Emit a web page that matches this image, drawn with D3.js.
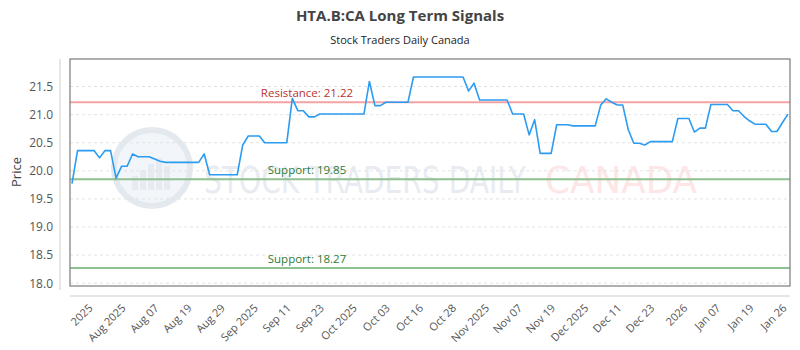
<!DOCTYPE html>
<html>
<head>
<meta charset="utf-8">
<script src="https://cdn.jsdelivr.net/npm/d3@7"></script>
<style>
  body { margin: 0; background: #fff; }
  svg { font-family: "Open Sans", "Noto Sans", sans-serif; }
</style>
</head>
<body>
<div id="chart"></div>
<script>
// chart values
var tickLabels = ["2025", "Aug 2025", "Aug 07", "Aug 19", "Aug 29", "Sep 2025", "Sep 11", "Sep 23",
    "Oct 2025", "Oct 03", "Oct 16", "Oct 28", "Nov 2025", "Nov 07", "Nov 19", "Dec 2025",
    "Dec 11", "Dec 23", "2026", "Jan 07", "Jan 19", "Jan 26"];

var prices = [
    19.77, 20.36, 20.36, 20.36, 20.36, 20.23, 20.36, 20.36, 19.87, 20.08,
    20.08, 20.30, 20.25, 20.25, 20.25, 20.21, 20.17, 20.15, 20.15, 20.15,
    20.15, 20.15, 20.15, 20.15, 20.30, 19.93, 19.93, 19.93, 19.93, 19.93,
    19.93, 20.46, 20.62, 20.62, 20.62, 20.50, 20.50, 20.50, 20.50, 20.50,
    21.29, 21.07, 21.07, 20.96, 20.96, 21.01, 21.01, 21.01, 21.01, 21.01,
    21.01, 21.01, 21.01, 21.01, 21.59, 21.16, 21.16, 21.22, 21.22, 21.22,
    21.22, 21.22, 21.67, 21.67, 21.67, 21.67, 21.67, 21.67, 21.67, 21.67,
    21.67, 21.67, 21.42, 21.56, 21.26, 21.26, 21.26, 21.26, 21.26, 21.26,
    21.01, 21.01, 21.01, 20.64, 20.91, 20.31, 20.31, 20.31, 20.82, 20.82,
    20.82, 20.80, 20.80, 20.80, 20.80, 20.80, 21.17, 21.28, 21.22, 21.17,
    21.17, 20.73, 20.49, 20.49, 20.46, 20.52, 20.52, 20.52, 20.52, 20.52,
    20.93, 20.93, 20.93, 20.69, 20.76, 20.76, 21.18, 21.18, 21.18, 21.18,
    21.07, 21.07, 20.97, 20.89, 20.83, 20.83, 20.83, 20.70, 20.70, 20.86,
    21.01
];

var yTicks = [18.0, 18.5, 19.0, 19.5, 20.0, 20.5, 21.0, 21.5];

var levelNames = ["Resistance", "Support", "Support"];
var levelValues = [21.22, 19.85, 18.27];

var svgWidth = 800;
var svgHeight = 350;

var plot = { left: 70, top: 59, right: 790, bottom: 286 };

var svg = d3.select("#chart")
    .append("svg")
    .attr("width", svgWidth)
    .attr("height", svgHeight);

var xScale = d3.scaleLinear()
    .domain([0, prices.length - 1])
    .range([72, 788]);

var yScale = d3.scaleLinear()
    .domain([17.95, 21.99])
    .range([plot.bottom, plot.top]);

// tick labels spread evenly, like the original time axis
var tickScale = d3.scalePoint()
    .domain(tickLabels)
    .range([xScale(3.3), xScale(129.3)]);

// titles
svg.append("text")
    .attr("x", 400)
    .attr("y", 21)
    .attr("text-anchor", "middle")
    .style("font-size", "15px")
    .style("font-weight", "bold")
    .style("fill", "#444")
    .text("HTA.B:CA Long Term Signals");

svg.append("text")
    .attr("x", 400)
    .attr("y", 44)
    .attr("text-anchor", "middle")
    .style("font-size", "11px")
    .style("fill", "#222")
    .text("Stock Traders Daily Canada");

// watermark
var wm = svg.append("g").attr("class", "watermark");
wm.append("circle")
    .attr("cx", 152)
    .attr("cy", 168)
    .attr("r", 38)
    .attr("fill", "#f2f5f9")
    .attr("stroke", "#e4e9f0")
    .attr("stroke-width", 6);
wm.selectAll("rect")
    .data([14, 20, 26, 32, 24])
    .enter()
    .append("rect")
    .attr("x", function (d, i) { return 132 + i * 8; })
    .attr("y", function (d) { return 190 - d; })
    .attr("width", 6)
    .attr("height", function (d) { return d; })
    .attr("fill", "#e6ebf2");
wm.append("text")
    .attr("x", 204)
    .attr("y", 193)
    .attr("textLength", 322)
    .attr("lengthAdjust", "spacingAndGlyphs")
    .style("font-family", "'DejaVu Sans Condensed', 'DejaVu Sans', sans-serif")
    .style("font-size", "38px")
    .style("fill", "#e8ecf2")
    .text("STOCK TRADERS DAILY");
wm.append("text")
    .attr("x", 545)
    .attr("y", 193)
    .attr("textLength", 152)
    .attr("lengthAdjust", "spacingAndGlyphs")
    .style("font-family", "'DejaVu Sans', sans-serif")
    .style("font-size", "38px")
    .style("fill", "#fde6e6")
    .text("CANADA");

// grid lines
svg.append("g")
    .selectAll("line")
    .data(yTicks)
    .enter()
    .append("line")
    .attr("x1", plot.left)
    .attr("x2", plot.right)
    .attr("y1", function (d) { return yScale(d); })
    .attr("y2", function (d) { return yScale(d); })
    .attr("stroke", "#e2e2e2")
    .attr("stroke-dasharray", "3,3");

// y axis (offset line and labels)
var leftAxis = d3.axisLeft(yScale)
    .tickValues(yTicks)
    .tickFormat(d3.format(".1f"))
    .tickSize(0)
    .tickPadding(7);

var yAxis = svg.append("g")
    .attr("transform", "translate(60, 0)")
    .call(leftAxis);
yAxis.select(".domain").attr("stroke", "#ccc").attr("d", "M0," + plot.top + "V" + (plot.bottom + 4));
yAxis.selectAll("text").style("font-size", "12px").style("fill", "#555")
    .style("font-family", "'Open Sans', sans-serif");

// x axis (offset line and rotated labels)
var bottomAxis = d3.axisBottom(tickScale).tickSize(0).tickPadding(0);
var xAxis = svg.append("g")
    .attr("transform", "translate(0, 296)")
    .call(bottomAxis);
xAxis.select(".domain").attr("stroke", "#ccc").attr("d", "M" + plot.left + ",0H" + plot.right);
xAxis.selectAll("text")
    .attr("y", 0)
    .attr("dy", "0.35em")
    .attr("text-anchor", "end")
    .attr("transform", "translate(0, 10) rotate(-45)")
    .style("font-size", "11px")
    .style("fill", "#555")
    .style("font-family", "'Open Sans', sans-serif");

// y label
svg.append("text")
    .attr("transform", "translate(21, 172) rotate(-90)")
    .attr("text-anchor", "middle")
    .style("font-size", "13px")
    .style("fill", "#444")
    .text("Price");

// support / resistance lines
var levelColor = ["#f4a3a3", "#8fc08f", "#8fc08f"];
var levelTextColor = ["#b83232", "#2f7a36", "#2f7a36"];

svg.append("g")
    .selectAll("line")
    .data(levelValues)
    .enter()
    .append("line")
    .attr("x1", plot.left)
    .attr("x2", plot.right)
    .attr("y1", function (d) { return yScale(d); })
    .attr("y2", function (d) { return yScale(d); })
    .attr("stroke", function (d, i) { return levelColor[i]; })
    .attr("stroke-width", 2);

svg.append("g")
    .selectAll("text")
    .data(levelValues)
    .enter()
    .append("text")
    .attr("x", 307)
    .attr("y", function (d) { return yScale(d) - 5; })
    .attr("text-anchor", "middle")
    .style("font-size", "11.5px")
    .style("fill", function (d, i) { return levelTextColor[i]; })
    .text(function (d, i) { return levelNames[i] + ": " + d.toFixed(2); });

// price line
var line = d3.line()
    .x(function (d, i) { return xScale(i); })
    .y(function (d) { return yScale(d); });

svg.append("path")
    .datum(prices)
    .attr("d", line)
    .attr("fill", "none")
    .attr("stroke", "#2b9cf2")
    .attr("stroke-width", 1.6)
    .attr("stroke-linejoin", "round");

// plot frame
svg.append("rect")
    .attr("x", plot.left)
    .attr("y", plot.top)
    .attr("width", plot.right - plot.left)
    .attr("height", plot.bottom - plot.top)
    .attr("fill", "none")
    .attr("stroke", "#7a7a7a")
    .attr("stroke-width", 1.2);
</script>
</body>
</html>
